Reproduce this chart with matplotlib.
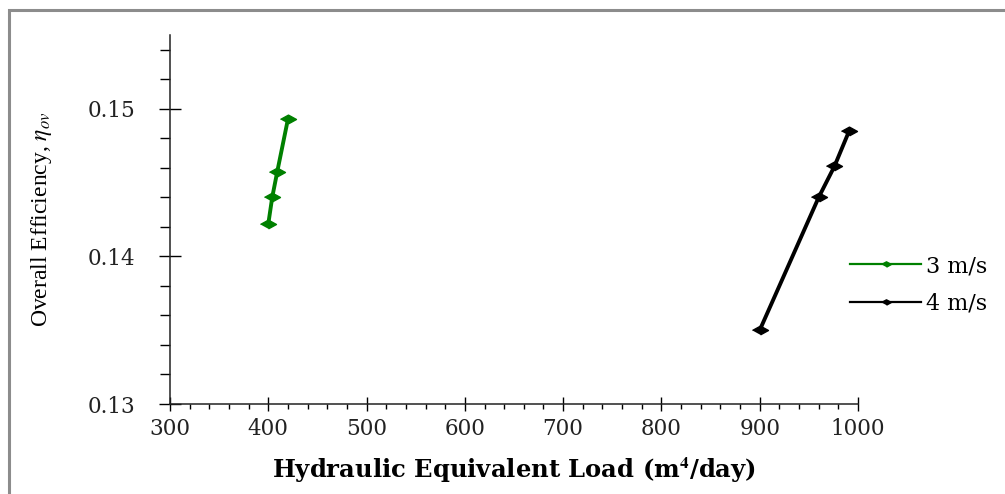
import matplotlib
matplotlib.use("Agg")
import matplotlib.pyplot as plt
from matplotlib.patches import Rectangle
from matplotlib.ticker import MultipleLocator

# Data
load_3ms = [400, 404, 409, 420]
eff_3ms = [0.1422, 0.1440, 0.1457, 0.1493]
load_4ms = [900, 960, 976, 991]
eff_4ms = [0.1350, 0.1440, 0.1461, 0.1485]
series_labels = ["3 m/s", "4 m/s"]
x_ticks = [300, 400, 500, 600, 700, 800, 900, 1000]
y_ticks = [0.13, 0.14, 0.15]
y_ticklabels = ["0.13", "0.14", "0.15"]

plt.rcParams['mathtext.fontset'] = 'stix'

fig = plt.figure(figsize=(10.05, 4.94), dpi=100)
ax = fig.add_axes([170/1005, 1-404/494, (858-170)/1005, (404-35)/494])

diamond = [(-1, 0), (0, 0.55), (1, 0), (0, -0.55)]
ax.plot(load_3ms, eff_3ms, color='#008000', lw=2.8, marker=diamond, ms=11.5,
        label=series_labels[0])
ax.plot(load_4ms, eff_4ms, color='black', lw=2.8, marker=diamond, ms=11.5,
        label=series_labels[1])

ax.set_xlim(300, 1000)
ax.set_ylim(0.13, 0.155)
for s in ['top', 'right']:
    ax.spines[s].set_visible(False)
for s in ['left', 'bottom']:
    ax.spines[s].set_linewidth(1.1)
    ax.spines[s].set_color('#222222')

ax.set_xticks(x_ticks)
ax.set_xticklabels([str(v) for v in x_ticks])
ax.set_yticks(y_ticks)
ax.set_yticklabels(y_ticklabels)
ax.xaxis.set_minor_locator(MultipleLocator(20))
ax.yaxis.set_minor_locator(MultipleLocator(0.002))

ax.tick_params(axis='y', which='major', direction='inout', length=16, width=1.0, pad=17)
ax.tick_params(axis='y', which='minor', direction='out', length=7, width=1.0)
ax.tick_params(axis='x', which='major', direction='inout', length=9.5, width=1.0, pad=5)
ax.tick_params(axis='x', which='minor', direction='out', length=3.3, width=1.0)
for lab in ax.get_xticklabels() + ax.get_yticklabels():
    lab.set_fontfamily('DejaVu Serif')
    lab.set_fontsize(15.5)
    lab.set_color('#222222')

ax.set_xlabel("Hydraulic Equivalent Load (m$^{\\mathbf{4}}$/day)", fontfamily='DejaVu Serif',
              fontweight='bold', fontsize=17.5, labelpad=11)
ax.set_ylabel(r"Overall Efficiency, $\eta_{ov}$", fontfamily='Liberation Serif',
              fontsize=17, labelpad=24)

leg = ax.legend(loc='center left', bbox_to_anchor=(850/1005, 1-285/494),
                bbox_transform=fig.transFigure, frameon=False,
                prop={'family': 'DejaVu Serif', 'size': 16},
                handlelength=3.2, handletextpad=0.2, labelspacing=0.7, borderpad=0,
                borderaxespad=0)
for ln in leg.get_lines():
    ln.set_linewidth(1.6)
    ln.set_markersize(7)

fig.patches.append(Rectangle((8.5/1005, -0.2), 1.2, 1.2 - 10/494,
                             transform=fig.transFigure, fill=False,
                             edgecolor='#8c8c8c', lw=2.2))

fig.savefig("out.png", dpi=100)
